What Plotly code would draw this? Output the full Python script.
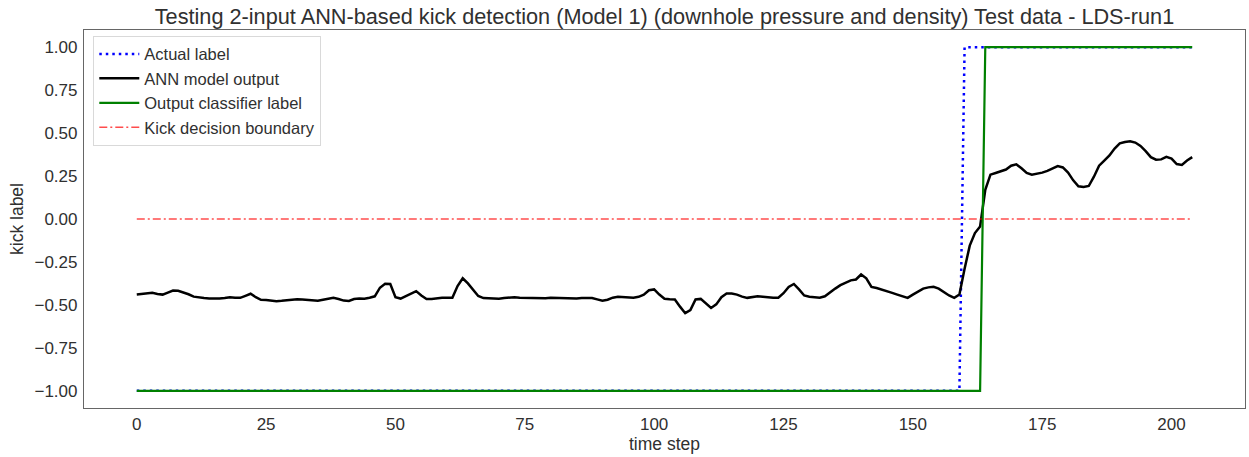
import plotly.graph_objects as go

# ANN kick-detection test run: 205 time steps
time_step = list(range(205))

# network output (continuous)
ann_output = [
    -0.440, -0.437, -0.433, -0.430, -0.436, -0.440, -0.428, -0.416, -0.418, -0.426,
    -0.438, -0.452, -0.458, -0.460, -0.462, -0.463, -0.463, -0.460, -0.455, -0.458,
    -0.459, -0.447, -0.435, -0.455, -0.470, -0.472, -0.475, -0.478, -0.476, -0.472,
    -0.469, -0.467, -0.468, -0.471, -0.474, -0.476, -0.470, -0.463, -0.459, -0.466,
    -0.475, -0.477, -0.466, -0.463, -0.464, -0.458, -0.450, -0.400, -0.377, -0.378,
    -0.455, -0.463, -0.450, -0.435, -0.420, -0.445, -0.466, -0.465, -0.460, -0.459,
    -0.459, -0.458, -0.390, -0.345, -0.375, -0.412, -0.448, -0.460, -0.462, -0.463,
    -0.464, -0.460, -0.457, -0.455, -0.458, -0.459, -0.461, -0.463, -0.464, -0.461,
    -0.459, -0.460, -0.462, -0.463, -0.463, -0.462, -0.460, -0.459, -0.460, -0.468,
    -0.476, -0.470, -0.458, -0.453, -0.456, -0.459, -0.458, -0.453, -0.440, -0.415,
    -0.410, -0.440, -0.464, -0.467, -0.468, -0.510, -0.548, -0.530, -0.468, -0.465,
    -0.490, -0.518, -0.497, -0.455, -0.434, -0.434, -0.440, -0.452, -0.459, -0.455,
    -0.450, -0.452, -0.456, -0.459, -0.458, -0.432, -0.395, -0.378, -0.410, -0.445,
    -0.453, -0.456, -0.458, -0.450, -0.425, -0.405, -0.385, -0.370, -0.357, -0.352,
    -0.323, -0.345, -0.395, -0.402, -0.410, -0.420, -0.430, -0.440, -0.450, -0.459,
    -0.440, -0.420, -0.405, -0.398, -0.395, -0.405, -0.425, -0.445, -0.459, -0.440,
    -0.290, -0.155, -0.082, -0.043, 0.170, 0.258, 0.268, 0.278, 0.288, 0.310,
    0.318, 0.295, 0.268, 0.258, 0.262, 0.270, 0.280, 0.295, 0.308, 0.300,
    0.270, 0.225, 0.190, 0.186, 0.192, 0.246, 0.310, 0.340, 0.370, 0.410,
    0.440, 0.448, 0.453, 0.445, 0.425, 0.395, 0.360, 0.345, 0.347, 0.362,
    0.352, 0.320, 0.315, 0.340, 0.360,
]

# ground-truth kick label: no kick up to step 159, kick from step 160
actual_label = [-1] * 160 + [1] * 45

# thresholded classifier output: kick from step 164
classifier_label = [-1] * 164 + [1] * 41

# decision threshold
boundary = [0.0] * 205

y_ticks = [-1.0, -0.75, -0.5, -0.25, 0.0, 0.25, 0.5, 0.75, 1.0]
x_ticks = [0, 25, 50, 75, 100, 125, 150, 175, 200]

FONT = "Arial, 'Liberation Sans', sans-serif"
TEXT = "#303030"

fig = go.Figure()
fig.add_trace(go.Scatter(
    x=time_step, y=actual_label, mode="lines", name="Actual label",
    line=dict(color="#0000ff", width=2.5, dash="2.5px,4px"),
))
fig.add_trace(go.Scatter(
    x=time_step, y=ann_output, mode="lines", name="ANN model output",
    line=dict(color="#000000", width=2.5),
))
fig.add_trace(go.Scatter(
    x=time_step, y=classifier_label, mode="lines", name="Output classifier label",
    line=dict(color="#008000", width=2.2),
))
fig.add_trace(go.Scatter(
    x=time_step, y=boundary, mode="lines", name="Kick decision boundary",
    line=dict(color="rgba(255,0,0,0.7)", width=1.3, dash="8px,3px,2px,3px"),
))

axis_common = dict(
    showgrid=False, zeroline=False, ticks="",
    showline=True, mirror=True, linecolor="#666666", linewidth=1.2,
    tickfont=dict(family=FONT, size=17, color=TEXT),
)

fig.update_layout(
    width=1249, height=457,
    margin=dict(l=84, r=4, t=30, b=49),
    paper_bgcolor="white", plot_bgcolor="white",
    font=dict(family=FONT, color=TEXT),
    title=dict(
        text="Testing 2-input ANN-based kick detection (Model 1) (downhole pressure and density) Test data - LDS-run1",
        x=0.5, xref="paper", xanchor="center",
        y=1 - 16 / 457, yref="container", yanchor="middle",
        font=dict(family=FONT, size=21.7, color=TEXT),
    ),
    xaxis=dict(
        range=[-10.2, 214.2], tickvals=x_ticks,
        title=dict(text="time step", font=dict(family=FONT, size=17.5, color=TEXT), standoff=0),
        ticklabelstandoff=0,
        **axis_common,
    ),
    yaxis=dict(
        range=[-1.1, 1.1], tickvals=y_ticks, tickformat=".2f",
        title=dict(text="kick label", font=dict(family=FONT, size=17.5, color=TEXT), standoff=6),
        ticklabelstandoff=2,
        **axis_common,
    ),
    legend=dict(
        x=0.008, y=0.985, xanchor="left", yanchor="top",
        bgcolor="rgba(255,255,255,0.8)", bordercolor="#d9d9d9", borderwidth=1,
        font=dict(family=FONT, size=16.5, color=TEXT),
        itemwidth=40,
    ),
    showlegend=True,
)

fig.write_html("out.html")
